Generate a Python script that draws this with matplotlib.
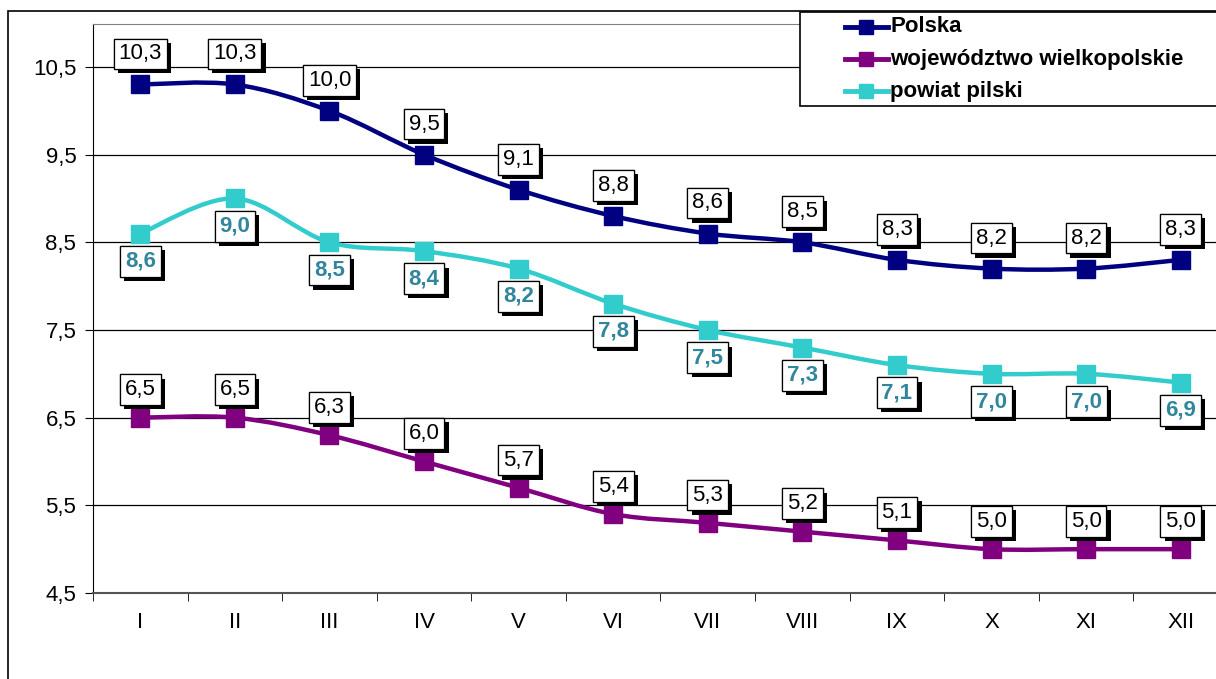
import matplotlib
matplotlib.use("Agg")
import matplotlib.pyplot as plt
import numpy as np
from matplotlib.path import Path
from matplotlib.patches import PathPatch, Rectangle
from matplotlib.lines import Line2D
import matplotlib.patheffects as pe

plt.rcParams['font.family'] = ['Liberation Sans', 'DejaVu Sans']

months = ["I", "II", "III", "IV", "V", "VI", "VII", "VIII", "IX", "X", "XI", "XII"]
polska = [10.3, 10.3, 10.0, 9.5, 9.1, 8.8, 8.6, 8.5, 8.3, 8.2, 8.2, 8.3]
wlkp = [6.5, 6.5, 6.3, 6.0, 5.7, 5.4, 5.3, 5.2, 5.1, 5.0, 5.0, 5.0]
pilski = [8.6, 9.0, 8.5, 8.4, 8.2, 7.8, 7.5, 7.3, 7.1, 7.0, 7.0, 6.9]
series_names = ["Polska", "województwo wielkopolskie", "powiat pilski"]
colors = ["#000080", "#800080", "#33CCCC"]
yticks = [4.5, 5.5, 6.5, 7.5, 8.5, 9.5, 10.5]

W, H = 1216, 679
fig = plt.figure(figsize=(W/100, H/100), dpi=100)

def fx(px):
    return px / W

def fy(py):
    return 1 - py / H

# outer frame
fig.patches.append(Rectangle((fx(8), -0.01), 1.2, fy(11) + 0.01, transform=fig.transFigure,
                             fill=False, edgecolor='black', lw=1.2))
ax = fig.add_axes([fx(93), 86/H, 1135/W, 569/H])
ax.set_xlim(-0.5, 11.5)
ax.set_ylim(4.5, 10.99)

x = np.arange(len(months))

def smooth_path(xs, ys):
    P = np.column_stack([xs, ys]).astype(float)
    n = len(P)
    verts = [P[0]]
    codes = [Path.MOVETO]
    for i in range(n - 1):
        p_prev = P[i - 1] if i > 0 else P[i]
        p_next2 = P[i + 2] if i + 2 < n else P[i + 1]
        c1 = P[i] + (P[i + 1] - p_prev) / 6.0
        c2 = P[i + 1] - (p_next2 - P[i]) / 6.0
        verts += [c1, c2, P[i + 1]]
        codes += [Path.CURVE4] * 3
    return Path(verts, codes)

for yv in yticks:
    ax.axhline(yv, color='black', lw=0.9, zorder=1)

label_specs = [
    (polska, colors[0], 'black', 'normal', 22),
    (wlkp, colors[1], 'black', 'normal', 20),
    (pilski, colors[2], '#31859C', 'bold', -20),
]
for vals, c, tc, fw, off in label_specs:
    ax.add_patch(PathPatch(smooth_path(x, vals), facecolor='none', edgecolor=c, lw=3.2, zorder=3,
                           capstyle='round', joinstyle='round'))
    ax.plot(x, vals, linestyle='none', marker='s', markersize=13, color=c, zorder=4)
    for xi, v in zip(x, vals):
        t = ax.annotate(f"{v:.1f}".replace('.', ','), (xi, v), xytext=(0, off), textcoords='offset points',
                        ha='center', va='center', fontsize=16, color=tc, fontweight=fw, zorder=6,
                        bbox=dict(boxstyle='square,pad=0.22', facecolor='white', edgecolor='black', lw=0.9))
        t.get_bbox_patch().set_path_effects([pe.withSimplePatchShadow(offset=(3, -3), shadow_rgbFace='black', alpha=1.0), pe.Normal()])

ax.set_yticks(yticks)
ax.set_yticklabels([f"{v:.1f}".replace('.', ',') for v in yticks], fontsize=16)
ax.set_xticks(x)
ax.set_xticklabels(months, fontsize=16)
ax.set_xticks(np.arange(-0.5, 12, 1), minor=True)
ax.tick_params(axis='x', which='major', length=0, pad=14)
ax.tick_params(axis='x', which='minor', length=6, direction='out', color='black')
ax.tick_params(axis='y', length=6, direction='out', pad=6)
ax.spines['right'].set_visible(False)
ax.spines['top'].set_color('#808080')
ax.spines['left'].set_color('black')
ax.spines['bottom'].set_color('#555555')
ax.spines['bottom'].set_linewidth(1.5)

# legend drawn in figure coordinates
fig.patches.append(Rectangle((fx(800), fy(106)), 0.5, (106 - 12) / H, transform=fig.transFigure,
                             facecolor='white', edgecolor='black', lw=1.2, zorder=10))
rows = [27, 59, 91]
for name, c, ry in zip(series_names, colors, rows):
    fig.add_artist(Line2D([fx(845), fx(888)], [fy(ry), fy(ry)], transform=fig.transFigure,
                          color=c, lw=3.5, zorder=11))
    fig.add_artist(Line2D([fx(866)], [fy(ry)], transform=fig.transFigure, color=c, marker='s',
                          markersize=10, linestyle='none', zorder=12))
    fig.text(fx(890), fy(ry), name, ha='left', va='center', fontsize=16, fontweight='bold',
             color='black', zorder=13)

fig.savefig("out.png", dpi=100)
